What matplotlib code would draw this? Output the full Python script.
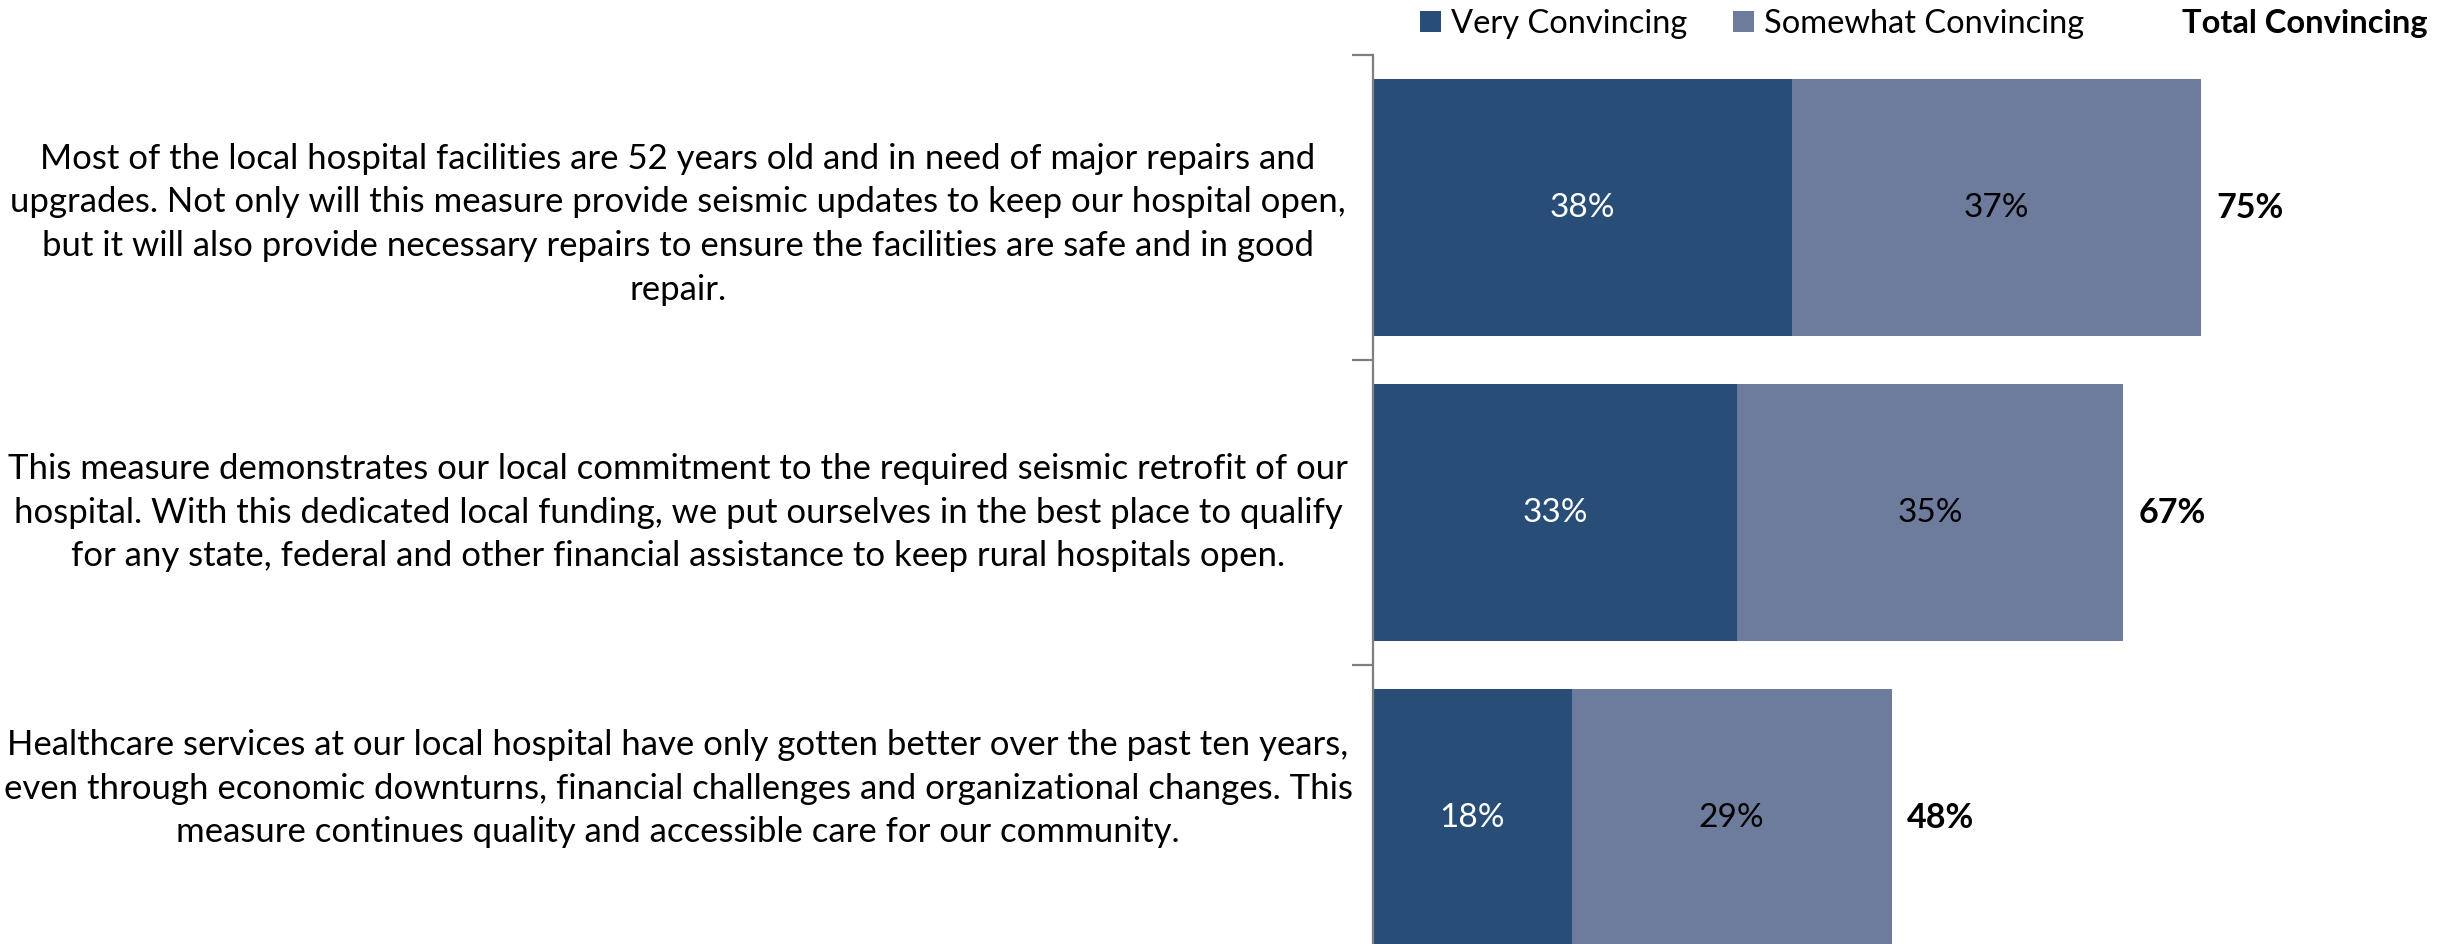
import matplotlib
matplotlib.use("Agg")
from matplotlib import pyplot as plt
from matplotlib import transforms
import numpy as np

plt.rcParams['font.family'] = ['Lato', 'DejaVu Sans']

statements = [
    "Most of the local hospital facilities are 52 years old and in need of major repairs and\n"
    "upgrades. Not only will this measure provide seismic updates to keep our hospital open,\n"
    "but it will also provide necessary repairs to ensure the facilities are safe and in good\n"
    "repair.",
    "This measure demonstrates our local commitment to the required seismic retrofit of our\n"
    "hospital. With this dedicated local funding, we put ourselves in the best place to qualify\n"
    "for any state, federal and other financial assistance to keep rural hospitals open.",
    "Healthcare services at our local hospital have only gotten better over the past ten years,\n"
    "even through economic downturns, financial challenges and organizational changes. This\n"
    "measure continues quality and accessible care for our community.",
]
very = [38, 33, 18]
somewhat = [37, 35, 29]
totals = [75, 67, 48]
series_names = ["Very Convincing", "Somewhat Convincing"]

DARK = "#284E77"
LIGHT = "#6D7B9D"

W, H = 2461, 944
fig = plt.figure(figsize=(W / 100, H / 100), dpi=100)

# axes placed in pixel terms, bottom hangs below the figure like the original
left, right, top = 1373, 2461, 55
step = 305
bottom = top + 3 * step
ax = fig.add_axes([left / W, 1 - bottom / H, (right - left) / W, (bottom - top) / H])

y = np.arange(len(statements))
b1 = ax.barh(y, very, height=0.845, color=DARK, label=series_names[0])
b2 = ax.barh(y, somewhat, left=very, height=0.845, color=LIGHT, label=series_names[1])

ax.set_xlim(0, 98.6)
ax.set_ylim(len(statements) - 0.5, -0.5)

for s in ['top', 'right', 'bottom']:
    ax.spines[s].set_visible(False)
ax.spines['left'].set_color('#7f7f7f')
ax.spines['left'].set_linewidth(1.6)
ax.set_xticks([])
ax.set_yticks(np.arange(len(statements) + 1) - 0.5)
ax.set_yticklabels([])
ax.tick_params(axis='y', length=15, width=1.6, color='#7f7f7f', direction='out')

for i in range(len(statements)):
    ax.text(very[i] / 2, i, f"{very[i]}%", ha='center', va='center',
            color='white', fontsize=24)
    ax.text(very[i] + somewhat[i] / 2, i, f"{somewhat[i]}%", ha='center',
            va='center', color='black', fontsize=24)
    ax.text(very[i] + somewhat[i] + 1.4, i, f"{totals[i]}%", ha='left',
            va='center', color='black', fontsize=24.5, fontweight='bold')

# statement labels: x in figure fraction, y in data
trans = transforms.blended_transform_factory(fig.transFigure, ax.transData)
label_shift = [0.055, 0.0, -0.095]
for i, txt in enumerate(statements):
    fig.text(678 / W, i + label_shift[i], txt, transform=trans, ha='center',
             va='center', multialignment='center', fontsize=25, linespacing=1.45)

fig.legend(handles=[b1, b2], loc='center left',
           bbox_to_anchor=(1420 / W, 1 - 24 / H), ncol=2, frameon=False,
           fontsize=23.5, handlelength=0.65, handleheight=0.65,
           handletextpad=0.3, columnspacing=1.4, borderpad=0, borderaxespad=0)
fig.text(2428 / W, 1 - 24 / H, "Total Convincing", ha='right', va='center',
         fontsize=23.5, fontweight='bold')

fig.savefig("out.png", dpi=100)
